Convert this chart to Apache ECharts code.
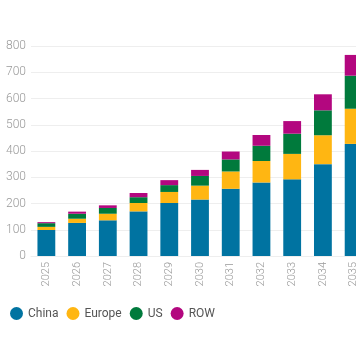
<!DOCTYPE html>
<html>
<head>
<meta charset="utf-8">
<script src="https://cdn.jsdelivr.net/npm/echarts@6/dist/echarts.min.js"></script>
<style>html,body{margin:0;padding:0;background:#fff}#c{width:356px;height:364px}</style>
</head>
<body>
<div id="c"></div>
<script>
const categories = ['2025','2026','2027','2028','2029','2030','2031','2032','2033','2034','2035'];
const china  = [99, 126, 136, 170, 202, 215, 256, 280, 292, 350, 427];
const europe = [12, 16, 25, 32, 42, 53, 66, 82, 97, 110, 134];
const us     = [14, 19, 22, 22, 26, 37, 46, 58, 77, 95, 126];
const row    = [4, 8, 10, 16, 19, 23, 30, 41, 48, 61, 79];
const yTicks = [0, 100, 200, 300, 400, 500, 600, 700, 800];

const colors = ['#0073A1', '#FFB612', '#007A3C', '#B3077F'];
const names = ['China', 'Europe', 'US', 'ROW'];
const data = [china, europe, us, row];

const chart = echarts.init(document.getElementById('c'));
chart.setOption({
  animation: false,
  grid: { left: 31, width: 338, top: 46, height: 210, outerBoundsMode: 'none', containLabel: false },
  legend: {
    left: 10, top: 307, padding: 0,
    icon: 'circle', itemWidth: 13, itemHeight: 13, itemGap: 8,
    textStyle: { color: '#555', fontSize: 12, fontFamily: 'Roboto' },
    data: names
  },
  xAxis: {
    type: 'category', data: categories,
    axisLine: { show: true, lineStyle: { color: '#eee' } },
    axisTick: { show: false },
    axisLabel: { rotate: 90, color: '#999', fontSize: 11, margin: 6, fontFamily: 'Roboto', fontWeight: 300 }
  },
  yAxis: {
    type: 'value', min: yTicks[0], max: yTicks[yTicks.length - 1], interval: 100,
    axisLine: { show: false }, axisTick: { show: false },
    splitLine: { lineStyle: { color: '#eee' } },
    axisLabel: { color: '#999', fontSize: 12, margin: 5, fontFamily: 'Roboto', fontWeight: 300 }
  },
  series: names.map((n, i) => ({
    name: n, type: 'bar', stack: 'total', data: data[i],
    barWidth: '58%',
    itemStyle: { color: colors[i] }
  }))
});
</script>
</body>
</html>
